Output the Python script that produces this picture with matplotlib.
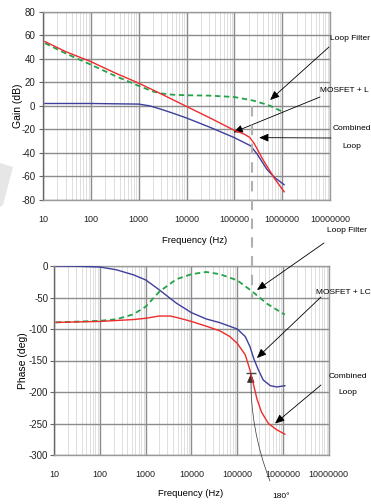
import matplotlib
matplotlib.use('Agg')
import matplotlib.pyplot as plt
import matplotlib.patches as patches
from matplotlib.lines import Line2D
from matplotlib.ticker import LogLocator, FixedLocator, FixedFormatter, NullFormatter

plt.rcParams['axes.unicode_minus'] = False

# figure size in pixels
W, H = 371, 504

# x axis ticks (both plots)
freq_ticks = [10, 100, 1000, 10000, 100000, 1000000, 10000000]
freq_labels = ['10', '100', '1000', '10000', '100000', '1000000', '10000000']

# gain plot
gain_ticks = [80, 60, 40, 20, 0, -20, -40, -60, -80]

f_gain_combined = [11, 30, 100, 300, 1000, 3000, 10000, 30000, 100000, 160000,
                   210000, 260000, 400000, 700000, 1100000]
gain_combined = [54.6, 46, 37.6, 28.5, 19.3, 10, -0.5, -10, -20.8, -24,
                 -26.8, -32, -46, -62, -73]

f_gain_filter = [11, 30, 100, 300, 1000, 2000, 3000, 5000, 10000, 30000,
                 100000, 240000, 400000, 560000, 800000, 1100000]
gain_filter = [53.2, 44.5, 35, 26, 17, 12.2, 10.5, 9.5, 9, 8.7,
               7.5, 4.6, 2, 0, -3, -5.5]

f_gain_mosfet = [11, 100, 1000, 1700, 3000, 5000, 10000, 30000, 100000,
                 220000, 300000, 480000, 700000, 1100000]
gain_mosfet = [2, 2, 1.5, 0, -3, -6, -10.3, -18, -27,
               -34, -41, -54, -61, -67]

# phase plot
phase_ticks = [0, -50, -100, -150, -200, -250, -300]

f_phase_mosfet = [11, 30, 100, 230, 540, 1000, 2000, 4700, 10000, 21000, 42000,
                  100000, 150000, 190000, 230000, 290000, 370000, 530000, 730000, 1100000]
phase_mosfet = [0, -0.3, -1.6, -6, -14, -22, -38, -59, -74, -84, -90,
                -100, -112, -128, -147, -165, -181, -190, -192, -190]

f_phase_filter = [11, 100, 230, 540, 1000, 2000, 4700, 10000, 21000, 42000,
                  100000, 210000, 440000, 1000000, 1100000]
phase_filter = [-89.5, -87, -84.6, -76.7, -64.6, -40.7, -21, -13, -9.5, -13,
                -22.7, -40, -59.5, -75.5, -77]

f_phase_combined = [11, 100, 540, 1000, 2000, 3500, 5600, 10000, 21000, 42000, 69000,
                    100000, 150000, 190000, 220000, 270000, 340000, 480000, 730000, 1100000]
phase_combined = [-89.5, -88, -85, -83, -79.4, -79.4, -83, -88, -95.5, -103, -112,
                  -122.7, -141, -165, -184, -211, -232, -250, -260, -267]

# crossover / phase margin marker
f_cross = 235000
pm_freq = 200000
pm_phase = -170

red = '#ee2b2b'
blue = '#3d3f9c'
green = '#25a24a'
font = ['Liberation Sans', 'DejaVu Sans']


def fp(x, y):
    # pixel position (from top-left) -> figure fraction
    return (x / W, 1 - y / H)


def style_axes(ax, yticks, pad_y):
    ax.set_xscale('log')
    ax.set_xlim(10, 1e7)
    ax.xaxis.set_major_locator(FixedLocator(freq_ticks))
    ax.xaxis.set_major_formatter(FixedFormatter(freq_labels))
    ax.xaxis.set_minor_locator(LogLocator(base=10, subs=range(2, 10), numticks=20))
    ax.xaxis.set_minor_formatter(NullFormatter())
    ax.set_yticks(yticks)
    ax.grid(which='minor', axis='x', color='#d9d9d9', lw=0.6)
    ax.grid(which='major', color='#8c8c8c', lw=1.0)
    ax.set_axisbelow(True)
    for s in ['top', 'right', 'bottom']:
        ax.spines[s].set_color('#9a9a9a')
        ax.spines[s].set_linewidth(1.0)
    ax.spines['left'].set_color('#666666')
    ax.spines['left'].set_linewidth(1.0)
    ax.tick_params(axis='x', which='both', length=0, pad=11, labelsize=6.5)
    ax.tick_params(axis='y', length=3, color='#666666', pad=pad_y, labelsize=7)
    for lab in ax.get_xticklabels() + ax.get_yticklabels():
        lab.set_family(font)
        lab.set_color('#222222')


fig = plt.figure(figsize=(W / 100, H / 100), dpi=100)

# faint watermark shape at left
fig.patches.append(patches.Polygon([fp(0, 163), fp(13, 167), fp(3, 205), fp(0, 207)],
                                   closed=True, transform=fig.transFigure,
                                   facecolor='#e6e6e6', edgecolor='none', zorder=0))

# ---- gain plot
ax1 = fig.add_axes([43 / W, 1 - 200 / H, 287 / W, 188.3 / H])
ax1.plot(f_gain_combined, gain_combined, color=red, lw=1.0, zorder=4)
ax1.plot(f_gain_mosfet, gain_mosfet, color=blue, lw=1.0, zorder=3)
ax1.plot(f_gain_filter, gain_filter, color=green, lw=1.3, ls=(0, (3, 2)), zorder=3)
ax1.set_ylim(-80, 80)
style_axes(ax1, gain_ticks, 2.5)
ax1.set_xlabel('Frequency (Hz)', family=font, fontsize=6.8, va='center')
ax1.xaxis.set_label_coords(0.53, -41 / 188.3)
ax1.set_ylabel('Gain (dB)', family=font, fontsize=7.5, va='center')
ax1.yaxis.set_label_coords(-25 / 287, 0.5)

# ---- phase plot
ax2 = fig.add_axes([54 / W, 1 - 455 / H, 274.8 / W, 189 / H])
ax2.plot(f_phase_combined, phase_combined, color=red, lw=1.0, zorder=4)
ax2.plot(f_phase_mosfet, phase_mosfet, color=blue, lw=1.0, zorder=3)
ax2.plot(f_phase_filter, phase_filter, color=green, lw=1.3, ls=(0, (3, 2)), zorder=3)
ax2.plot([pm_freq], [pm_phase], marker='_', ms=7, mew=1.0, color='#444444', zorder=5)
ax2.set_ylim(-300, 0)
style_axes(ax2, phase_ticks, 1.2)
ax2.set_xlabel('Frequency (Hz)', family=font, fontsize=6.8, va='center')
ax2.xaxis.set_label_coords((191 - 54) / 274.8, -39 / 189)
ax2.set_ylabel('Phase (deg)', family=font, fontsize=7.5, va='center')
ax2.yaxis.set_label_coords(-31 / 274.8, 0.5)

# dashed vertical line at crossover, running across both plots
fig.canvas.draw()
x_disp, y_top = ax1.transData.transform((f_cross, 0))
_, y_bot = ax2.transData.transform((f_cross, -50))
fx = x_disp / fig.bbox.width
fig.lines.append(Line2D([fx, fx], [y_top / fig.bbox.height, y_bot / fig.bbox.height],
                        transform=fig.transFigure, color='#b0b0b0', lw=1.5,
                        ls=(0, (5, 4)), zorder=1))

arrow = dict(arrowstyle='-|>,head_length=0.7,head_width=0.3', color='black',
             lw=0.6, shrinkA=0, shrinkB=0, mutation_scale=8)
note = dict(family=font, fontsize=6, va='center')

# gain plot call-outs
ax1.annotate('', xy=(5.6e5, 5), xycoords='data', xytext=fp(329, 47),
             textcoords='figure fraction', arrowprops=arrow, annotation_clip=False)
ax1.annotate('', xy=(9.6e4, -22.5), xycoords='data', xytext=fp(320, 97),
             textcoords='figure fraction', arrowprops=arrow, annotation_clip=False)
ax1.annotate('', xy=(3.3e5, -27), xycoords='data', xytext=fp(331, 138),
             textcoords='figure fraction', arrowprops=arrow, annotation_clip=False)
fig.text(*fp(330, 38), 'Loop Filter', **note)
fig.text(*fp(320, 90), 'MOSFET + L', **note)
fig.text(*fp(333, 129), 'Combined', **note)
fig.text(*fp(352, 146), 'Loop', ha='center', **note)

# phase plot call-outs
ax2.annotate('', xy=(2.7e5, -38), xycoords='data', xytext=fp(324, 243),
             textcoords='figure fraction', arrowprops=arrow, annotation_clip=False)
ax2.annotate('', xy=(2.7e5, -146), xycoords='data', xytext=fp(321, 297),
             textcoords='figure fraction', arrowprops=arrow, annotation_clip=False)
ax2.annotate('', xy=(6.7e5, -250), xycoords='data', xytext=fp(321, 385),
             textcoords='figure fraction', arrowprops=arrow, annotation_clip=False)
fig.text(*fp(327, 231), 'Loop Filter', **note)
fig.text(*fp(316, 293), 'MOSFET + LC', **note)
fig.text(*fp(348, 377), 'Combined', ha='center', **note)
fig.text(*fp(348, 393), 'Loop', ha='center', **note)

curve = dict(arrow, lw=0.5, color='#333333', connectionstyle='arc3,rad=-0.1')
ax2.annotate('', xy=(pm_freq, pm_phase - 1), xycoords='data', xytext=fp(270, 481),
             textcoords='figure fraction', arrowprops=curve, annotation_clip=False)
fig.text(*fp(281, 496), '180°', ha='center', **note)

fig.savefig('out.png', dpi=100)
